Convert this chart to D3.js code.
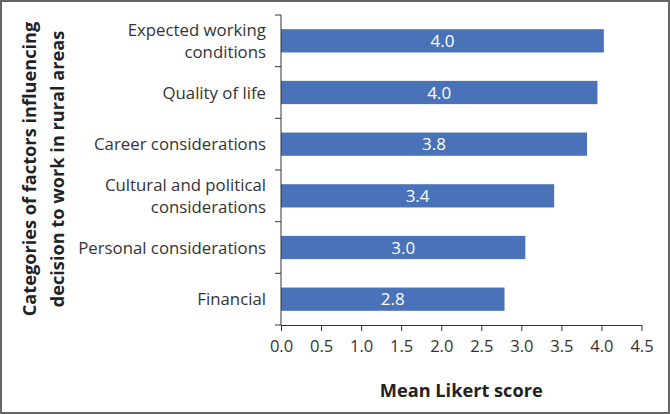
<!DOCTYPE html>
<html>
<head>
<meta charset="utf-8">
<script src="https://cdn.jsdelivr.net/npm/d3@7"></script>
<style>
  body { margin: 0; background: #fff; }
  svg { display: block; font-family: "Open Sans", sans-serif; }
</style>
</head>
<body>
<div id="chart"></div>
<script>
(function(){
    var width = 670;
    var height = 414;

    // data, top to bottom
    var categories = [
        ["Expected working", "conditions"],
        ["Quality of life"],
        ["Career considerations"],
        ["Cultural and political", "considerations"],
        ["Personal considerations"],
        ["Financial"]
    ];
    var values = [4.03, 3.95, 3.82, 3.41, 3.05, 2.79];
    var labels = ["4.0", "4.0", "3.8", "3.4", "3.0", "2.8"];
    var xTicks = [0, 0.5, 1, 1.5, 2, 2.5, 3, 3.5, 4, 4.5];

    var margin = {top: 15, right: 28, bottom: 89, left: 281};

    var svg = d3.select("#chart")
        .append("svg")
        .attr("width", width)
        .attr("height", height)

    // outer frame
    svg.append("rect")
        .attr("x", 1).attr("y", 1)
        .attr("width", width - 2).attr("height", height - 2)
        .attr("fill", "none")
        .attr("stroke", "#666")
        .attr("stroke-width", 2)

    var g = svg.append("g")
        .attr("transform", "translate(" + margin.left + "," + margin.top + ")")

    var innerW = width - margin.left - margin.right;
    var innerH = height - margin.top - margin.bottom;

    var x = d3.scaleLinear().domain([0, 4.5]).range([0, innerW - 0.5])
    var y = d3.scaleBand()
        .domain(d3.range(categories.length))
        .range([0, innerH])
        .paddingInner(0.55)
        .paddingOuter(0.275)

    // bars
    g.selectAll(".bar")
        .data(values)
        .enter().append("rect")
        .attr("class", "bar")
        .attr("x", 0)
        .attr("y", function(d, i){ return y(i) })
        .attr("width", function(d){ return x(d) })
        .attr("height", y.bandwidth())
        .attr("fill", "#4a72b8")

    g.selectAll(".val")
        .data(values)
        .enter().append("text")
        .attr("class", "val")
        .attr("x", function(d){ return x(d) / 2 })
        .attr("y", function(d, i){ return y(i) + y.bandwidth() / 2 })
        .attr("dy", "0.36em")
        .attr("text-anchor", "middle")
        .attr("fill", "#fff")
        .style("font-size", "17px")
        .text(function(d, i){ return labels[i] })

    // x axis
    var xAxis = g.append("g")
        .attr("transform", "translate(0," + innerH + ")")
        .call(d3.axisBottom(x).tickValues(xTicks).tickFormat(d3.format(".1f")).tickSize(6).tickSizeOuter(0))
    xAxis.select(".domain").attr("stroke", "#333")
    xAxis.selectAll(".tick line").attr("stroke", "#333")
    xAxis.selectAll("text")
        .attr("fill", "#333")
        .attr("dy", "1.1em")
        .style("font-size", "16.5px")
        .style("font-family", "'Open Sans', sans-serif")

    // y axis: ticks between categories
    var bounds = d3.range(categories.length + 1).map(function(i){
        return i * innerH / categories.length
    })
    g.append("line")
        .attr("x1", 0).attr("x2", 0)
        .attr("y1", 0).attr("y2", innerH)
        .attr("stroke", "#333")
    g.selectAll(".ytick")
        .data(bounds)
        .enter().append("line")
        .attr("x1", -6).attr("x2", 0)
        .attr("y1", function(d){ return d })
        .attr("y2", function(d){ return d })
        .attr("stroke", "#333")

    var catText = g.selectAll(".cat")
        .data(categories)
        .enter().append("text")
        .attr("class", "cat")
        .attr("text-anchor", "end")
        .attr("fill", "#333")
        .style("font-size", "16.8px")
        .attr("transform", function(d, i){
            var cy = y(i) + y.bandwidth() / 2 - (d.length - 1) * 11;
            return "translate(-15," + cy + ")"
        })
    catText.selectAll("tspan")
        .data(function(d){ return d })
        .enter().append("tspan")
        .attr("x", 0)
        .attr("y", function(d, j){ return j * 22 })
        .attr("dy", "0.36em")
        .text(function(d){ return d })

    // axis titles
    svg.append("text")
        .attr("x", margin.left + x(2.25))
        .attr("y", 390)
        .attr("dy", "0.36em")
        .attr("text-anchor", "middle")
        .attr("fill", "#222")
        .style("font-size", "18.2px")
        .style("font-weight", "bold")
        .text("Mean Likert score")

    var yTitle = svg.append("text")
        .attr("transform", "translate(29,169) rotate(-90)")
        .attr("text-anchor", "middle")
        .attr("fill", "#222")
        .style("font-size", "18.2px")
        .style("font-weight", "bold")
    yTitle.append("tspan").attr("x", 0).attr("y", 0).attr("dy", "0.36em")
        .text("Categories of factors influencing")
    yTitle.append("tspan").attr("x", 0).attr("y", 28).attr("dy", "0.36em")
        .text("decision to work in rural areas")
})();
</script>
</body>
</html>
